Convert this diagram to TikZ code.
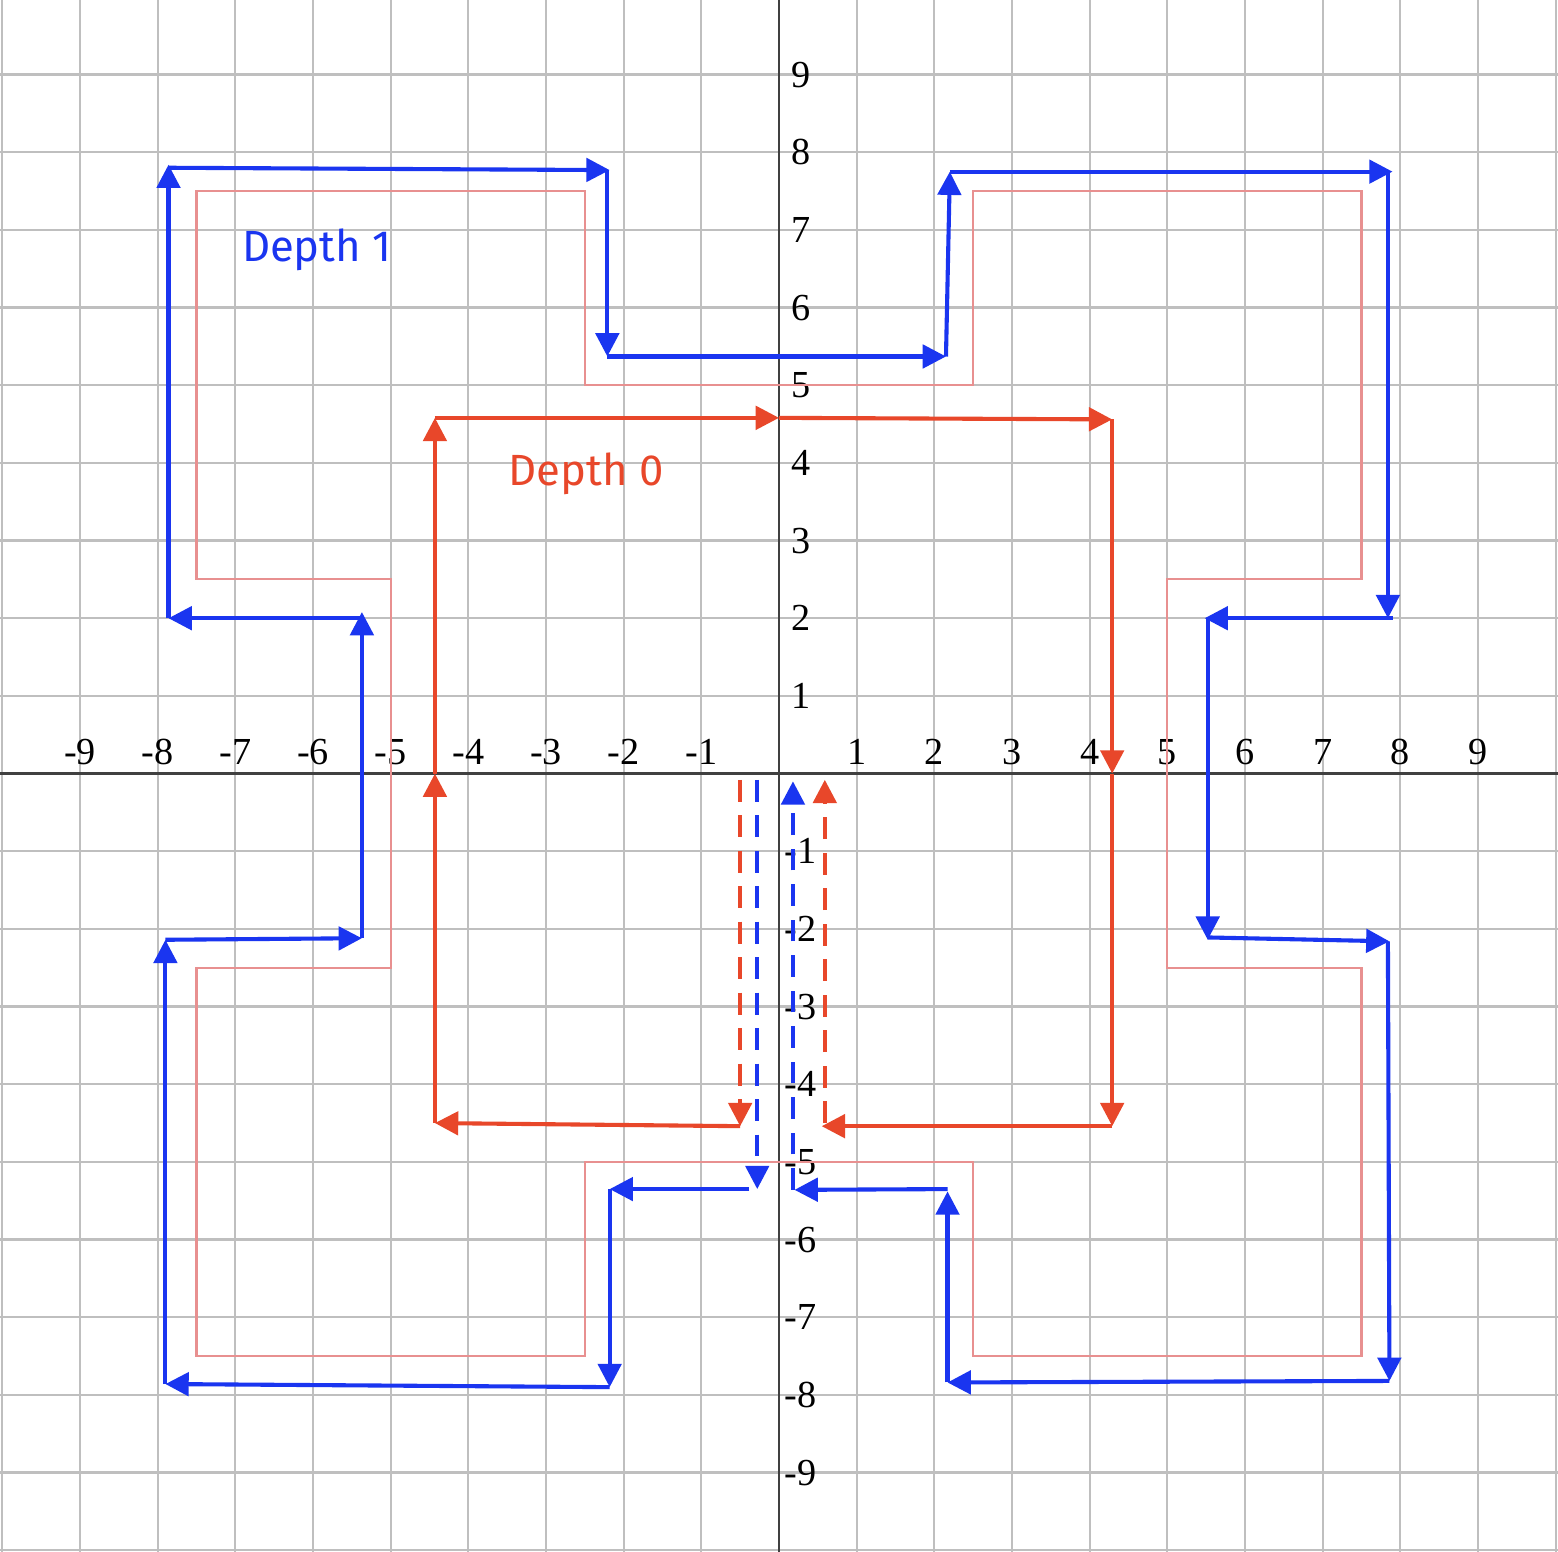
\documentclass[tikz,border=0pt]{standalone}
\usepackage{fontspec}
\setmainfont{Liberation Serif}
\newfontfamily\handfont{Fira Sans}
\usetikzlibrary{arrows.meta}
\definecolor{rd}{HTML}{E8472A}
\definecolor{bl}{HTML}{1A35F0}
\definecolor{pk}{HTML}{E89090}
\begin{document}
\begin{tikzpicture}[
  ar/.style={line width=1.5pt,-{Triangle[length=0.3cm,width=0.3cm]}},
  R/.style={ar,rd}, B/.style={ar,bl},
  Rd/.style={R,dashed,dash pattern=on 8pt off 5pt},
  Bd/.style={B,dashed,dash pattern=on 8pt off 5pt},
  lab/.style={font=\fontsize{14}{14}\selectfont}]
\useasboundingbox (-10.03,-10.01) rectangle (10.03,9.96);
\fill[white] (-10.03,-10.01) rectangle (10.03,9.96);
\draw[black!25,line width=0.8pt] (-10.5,-10.5) grid[step=1] (10.5,10.5);
\draw[black!75,line width=0.8pt] (-10.1,0) -- (10.1,0) (0,-10.1) -- (0,10.1);
\foreach \i in {-9,...,-1,1,2,...,9} {
  \node[lab] at (\i,0.28) {\i};
  \node[lab] at (0.28,\i) {\i};
}
% pink outline
\draw[pk,line width=0.8pt] (-7.5,7.5)--(-2.5,7.5)--(-2.5,5)--(2.5,5)--(2.5,7.5)--(7.5,7.5)--(7.5,2.5)--(5,2.5)--(5,-2.5)--(7.5,-2.5)--(7.5,-7.5)--(2.5,-7.5)--(2.5,-5)--(-2.5,-5)--(-2.5,-7.5)--(-7.5,-7.5)--(-7.5,-2.5)--(-5,-2.5)--(-5,2.5)--(-7.5,2.5)--cycle;
% depth 0
\draw[Rd] (-0.5,-0.08) -- (-0.5,-4.54);
\draw[R] (-0.5,-4.54) -- (-4.43,-4.5);
\draw[R] (-4.43,-4.5) -- (-4.43,0);
\draw[R] (-4.43,0) -- (-4.43,4.58);
\draw[R] (-4.43,4.58) -- (0,4.58);
\draw[R] (0,4.58) -- (4.29,4.56);
\draw[R] (4.29,4.56) -- (4.29,0);
\draw[R] (4.29,0) -- (4.29,-4.54);
\draw[R] (4.29,-4.54) -- (0.55,-4.54);
\draw[Rd] (0.59,-4.5) -- (0.59,-0.08);
% depth 1
\draw[Bd] (-0.28,-0.08) -- (-0.28,-5.35);
\draw[B] (-0.38,-5.35) -- (-2.18,-5.35);
\draw[B] (-2.18,-5.35) -- (-2.18,-7.9);
\draw[B] (-2.18,-7.9) -- (-7.9,-7.86);
\draw[B] (-7.9,-7.86) -- (-7.9,-2.14);
\draw[B] (-7.9,-2.14) -- (-5.37,-2.12);
\draw[B] (-5.37,-2.12) -- (-5.37,2.08);
\draw[B] (-5.37,2.0) -- (-7.86,2.0);
\draw[B] (-7.86,2.0) -- (-7.86,7.84);
\draw[B] (-7.86,7.8) -- (-2.18,7.77);
\draw[B] (-2.21,7.77) -- (-2.21,5.37);
\draw[B] (-2.21,5.37) -- (2.15,5.37);
\draw[B] (2.15,5.37) -- (2.2,7.75);
\draw[B] (2.2,7.75) -- (7.9,7.75);
\draw[B] (7.84,7.75) -- (7.84,2.0);
\draw[B] (7.9,2.0) -- (5.48,2.0);
\draw[B] (5.52,2.0) -- (5.52,-2.14);
\draw[B] (5.52,-2.11) -- (7.86,-2.16);
\draw[B] (7.84,-2.16) -- (7.86,-7.82);
\draw[B] (7.86,-7.82) -- (2.17,-7.84);
\draw[B] (2.17,-7.84) -- (2.17,-5.38);
\draw[B] (2.17,-5.35) -- (0.2,-5.36);
\draw[Bd] (0.18,-5.36) -- (0.18,-0.1);
\node[bl,font=\handfont\fontsize{16}{16}\selectfont] at (-5.95,6.74) {Depth 1};
\node[rd,font=\handfont\fontsize{16}{16}\selectfont] at (-2.48,3.86) {Depth 0};
\end{tikzpicture}
\end{document}
